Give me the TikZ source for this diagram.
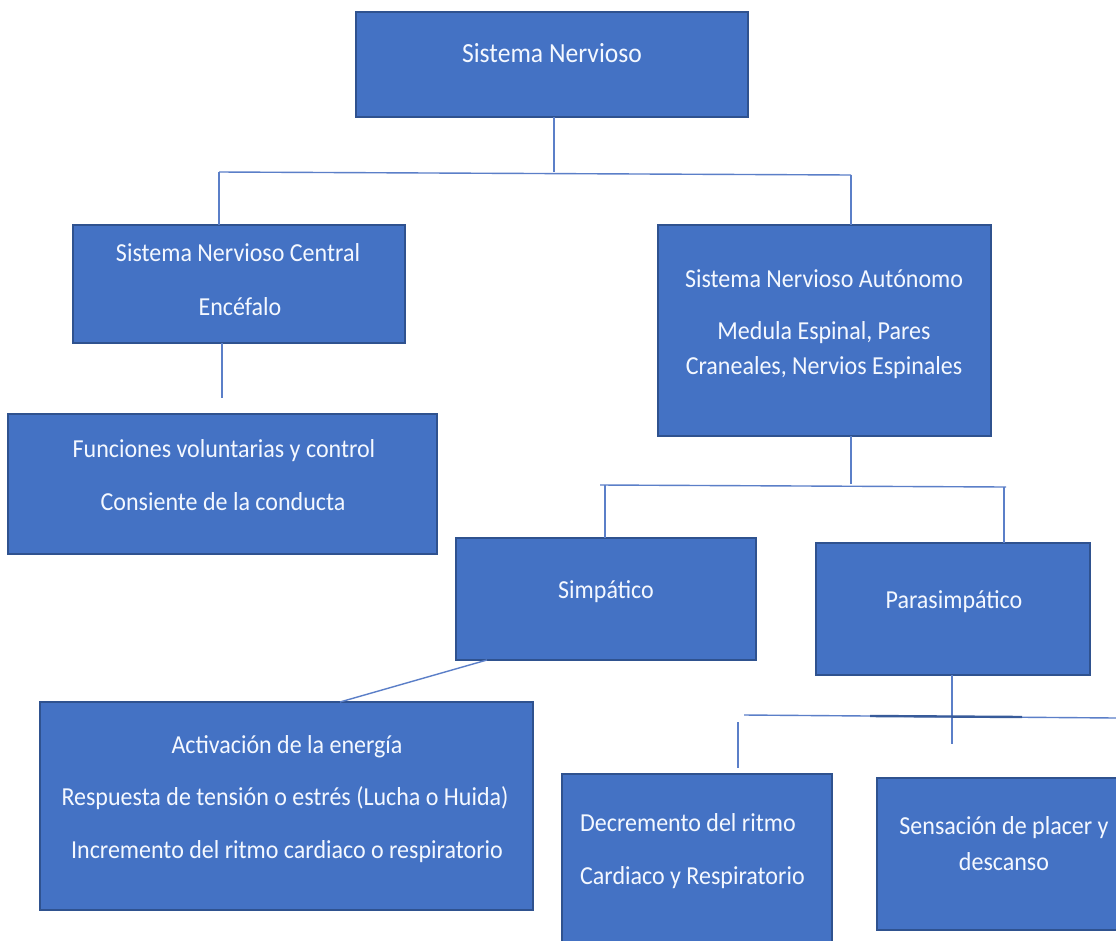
\documentclass[tikz,border=0pt]{standalone}
\usepackage{fontspec}
\usepackage{graphicx}
\setmainfont{Carlito}
\definecolor{boxfill}{HTML}{4472C4}
\definecolor{boxline}{HTML}{2F528F}
\definecolor{connline}{HTML}{5B7FC8}
\definecolor{txtcol}{HTML}{F4F8FF}
\newcommand\stxt[1]{\scalebox{1}[1.08]{#1}}
\tikzset{
  box/.style={draw=boxline, fill=boxfill, line width=1.3pt, inner sep=0pt, outer sep=0pt, anchor=north west},
  txt/.style={text=txtcol, inner sep=0pt, anchor=base, font=\fontsize{24}{29}\selectfont},
  txtbig/.style={txt, font=\fontsize{25.6}{30}\selectfont},
  txtl/.style={txt, anchor=base west},
  conn/.style={draw=connline, line width=1.4pt},
  connthick/.style={draw=boxline!80!connline, line width=2.4pt}
}
\begin{document}
\begin{tikzpicture}[x=1pt,y=-1pt]
\useasboundingbox (0,0) rectangle (1116,940);
\clip (0,0) rectangle (1116,940);
\fill[white] (0,0) rectangle (1116,940);
% boxes
\node[box, minimum width=392pt, minimum height=105pt] (top) at (356,12) {};
\node[box, minimum width=332pt, minimum height=118pt] (snc) at (73,225) {};
\node[box, minimum width=429pt, minimum height=140pt] (func) at (8,414) {};
\node[box, minimum width=333pt, minimum height=211pt] (sna) at (658,225) {};
\node[box, minimum width=300pt, minimum height=122pt] (simp) at (456,538) {};
\node[box, minimum width=274pt, minimum height=132pt] (para) at (816,543) {};
\node[box, minimum width=493pt, minimum height=208pt] (act) at (40,702) {};
\node[box, minimum width=270pt, minimum height=190pt] (dec) at (562,774) {};
\node[box, minimum width=260pt, minimum height=152pt] (sen) at (877,778) {};
% texts
\node[txtbig] (t1) at (552,62) {\stxt{Sistema Nervioso}};
\node[txt] (t2a) at (238,261) {\stxt{Sistema Nervioso Central}};
\node[txt] (t2b) at (240,315) {\stxt{Encéfalo}};
\node[txt] (t3a) at (224,457) {\stxt{Funciones voluntarias y control}};
\node[txt] (t3b) at (223,510) {\stxt{Consiente de la conducta}};
\node[txt] (t4a) at (824,287) {\stxt{Sistema Nervioso Autónomo}};
\node[txt] (t4b) at (824,339) {\stxt{Medula Espinal, Pares}};
\node[txt] (t4c) at (824,374) {\stxt{Craneales, Nervios Espinales}};
\node[txt] (t5) at (606,598) {\stxt{Simpático}};
\node[txt] (t6) at (954,608) {\stxt{Parasimpático}};
\node[txt] (t7a) at (287,753) {\stxt{Activación de la energía}};
\node[txt] (t7b) at (285,805) {\stxt{Respuesta de tensión o estrés (Lucha o Huida)}};
\node[txt] (t7c) at (287,858) {\stxt{Incremento del ritmo cardiaco o respiratorio}};
\node[txtl] (t8a) at (580,831) {\stxt{Decremento del ritmo}};
\node[txtl] (t8b) at (580,884) {\stxt{Cardiaco y Respiratorio}};
\node[txt] (t9a) at (1004,834) {\stxt{Sensación de placer y}};
\node[txt] (t9b) at (1004,870) {\stxt{descanso}};
% connector points
\coordinate (j0) at (554,172);
\coordinate (jL) at (219,172);
\coordinate (jR) at (851,175);
\coordinate (s1) at (222,398);
\coordinate (j2) at (851,484);
\coordinate (j2L) at (600,485);
\coordinate (j2R) at (1006,487);
\coordinate (k1) at (605,485);
\coordinate (k2) at (1004,487);
\coordinate (d1) at (487,661);
\coordinate (d2) at (340,702);
\coordinate (p1) at (952,744);
\coordinate (hL) at (744,715);
\coordinate (hR) at (1116,718);
\coordinate (hT1) at (870,716);
\coordinate (hT2) at (1022,717);
\coordinate (q1) at (738,722);
\coordinate (q2) at (738,768);
% connectors
\draw[conn] (top.south -| j0) -- (j0);
\draw[conn] (jL) -- (jR);
\draw[conn] (jL) -- (jL |- snc.north);
\draw[conn] (jR) -- (jR |- sna.north);
\draw[conn] (snc.south -| s1) -- (s1);
\draw[conn] (sna.south -| j2) -- (j2);
\draw[conn] (j2L) -- (j2R);
\draw[conn] (k1) -- (k1 |- simp.north);
\draw[conn] (k2) -- (k2 |- para.north);
\draw[conn] (simp.south -| d1) -- (act.north -| d2);
\draw[conn] (para.south -| p1) -- (p1);
\draw[conn] (hL) -- (hR);
\draw[connthick] (hT1) -- (hT2);
\draw[conn] (q1) -- (q2);
\end{tikzpicture}
\end{document}
